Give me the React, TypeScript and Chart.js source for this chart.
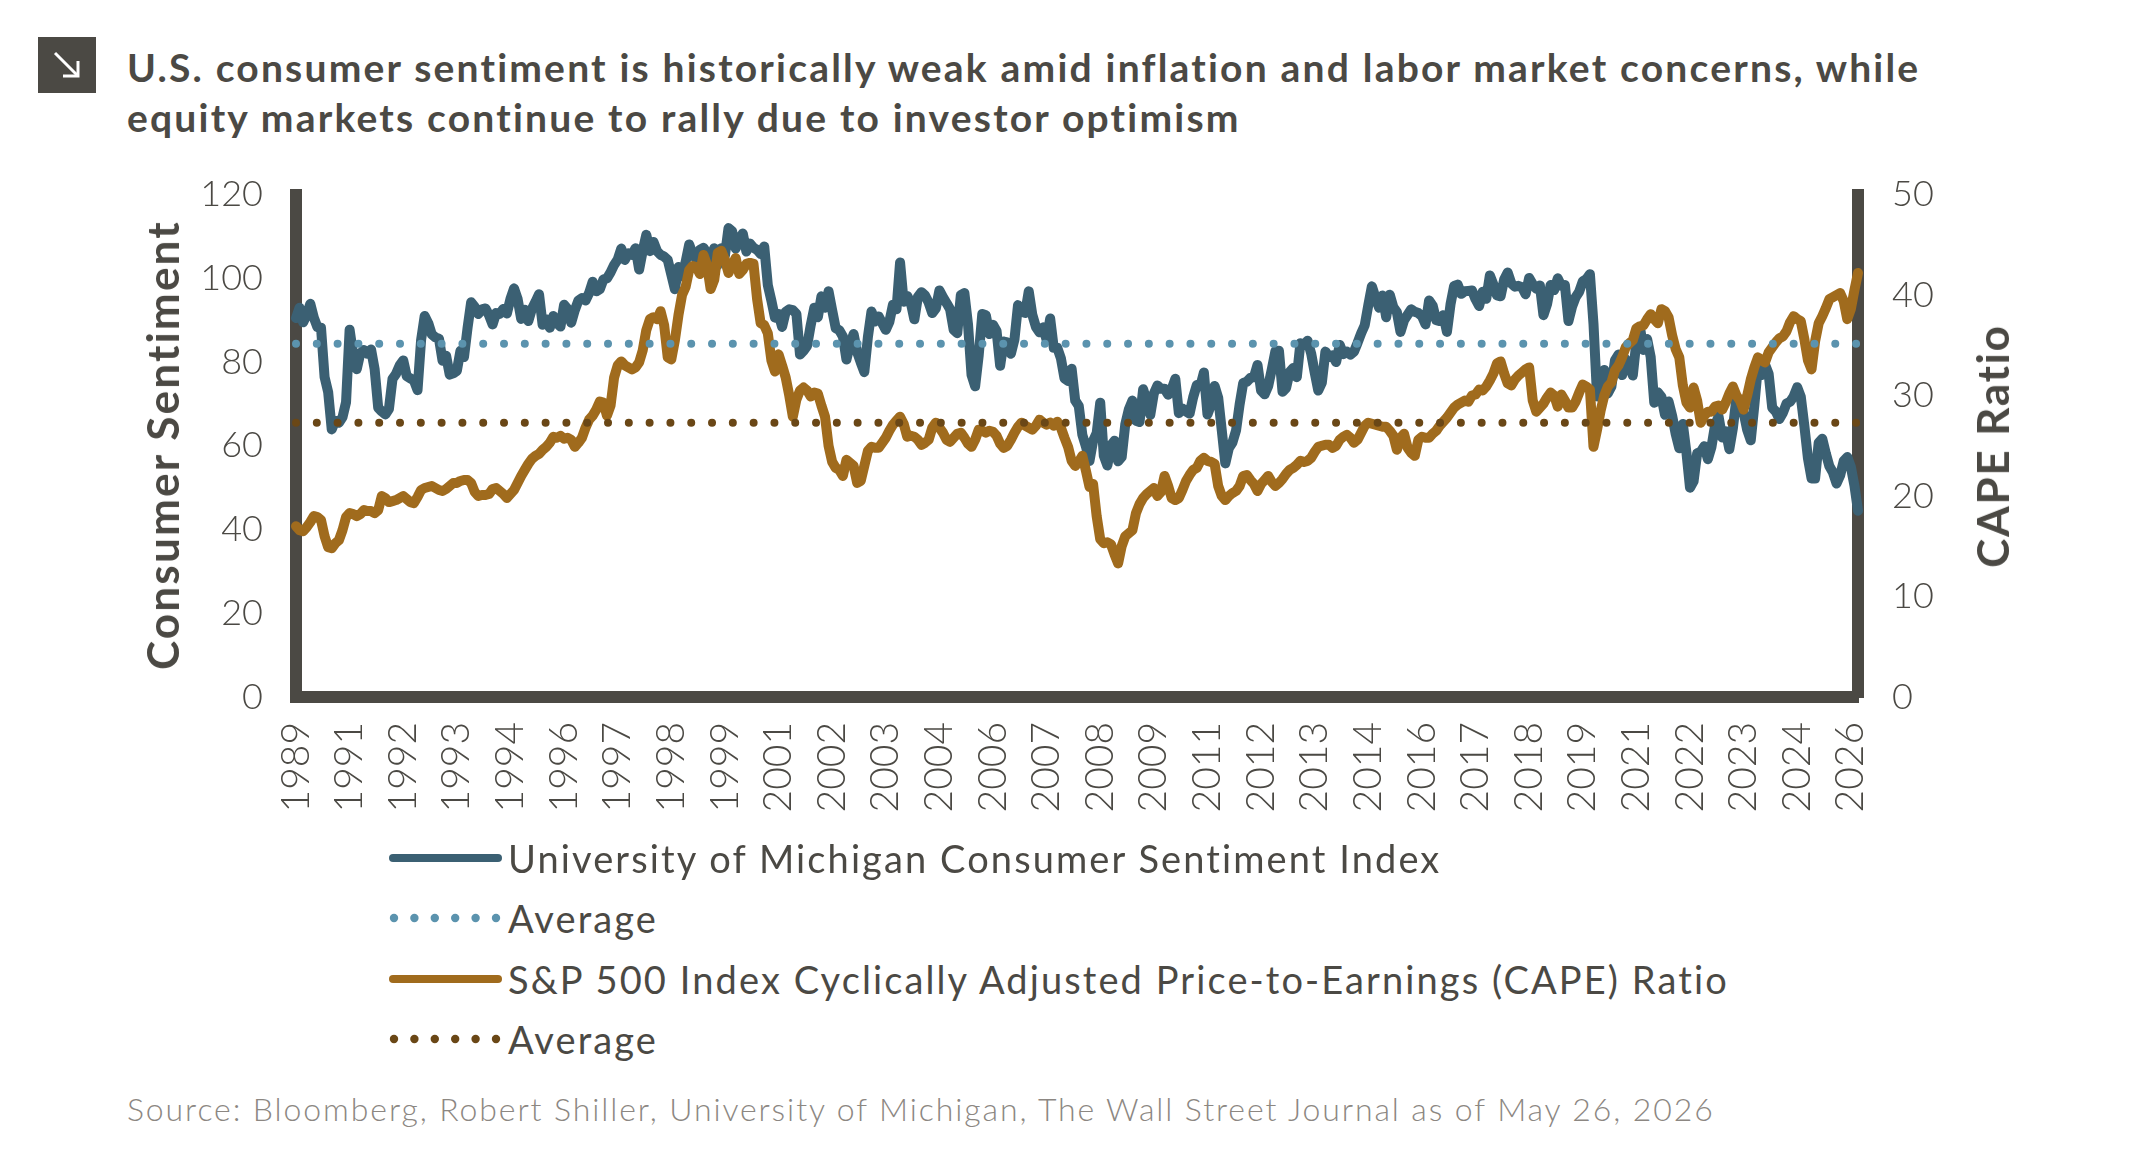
import React, { useEffect, useRef } from "react";
import { Chart, registerables } from "chart.js";

Chart.register(...registerables);

// Monthly series, December 1989 through May 2026
const START_YEAR = 1989;
const START_MONTH = 12;

const sentiment: number[] = [
  90.5,
  93.0, 89.5, 91.3, 93.9, 90.6, 88.3, 88.2, 76.4, 72.8, 63.9, 66.0, 65.5,
  66.8, 70.4, 87.7, 81.8, 78.3, 82.1, 82.9, 82.0, 83.0, 78.3, 69.1, 68.2,
  67.5, 68.8, 76.0, 77.2, 79.2, 80.4, 76.6, 76.1, 75.6, 73.3, 85.3, 91.0,
  89.3, 86.6, 85.9, 85.6, 80.3, 81.5, 77.0, 77.3, 77.9, 82.7, 81.2, 88.2,
  94.3, 93.2, 91.5, 92.6, 92.8, 91.2, 89.0, 91.7, 91.5, 92.7, 91.6, 95.1,
  97.6, 95.1, 90.3, 92.5, 89.8, 92.7, 94.4, 96.2, 88.9, 90.2, 88.2, 91.0,
  89.3, 88.5, 93.7, 92.7, 89.4, 92.4, 94.7, 95.3, 94.7, 96.5, 99.2, 96.9,
  97.4, 99.7, 100.0, 101.4, 103.2, 104.5, 107.1, 104.4, 106.0, 105.6, 107.2, 102.1,
  106.6, 110.4, 106.5, 108.7, 106.5, 105.6, 105.2, 104.4, 100.9, 97.4, 102.7, 100.5,
  103.9, 108.1, 105.7, 104.6, 106.8, 107.3, 106.0, 104.5, 107.2, 103.2, 107.2, 105.4,
  112.0, 111.3, 107.1, 109.2, 110.7, 106.4, 108.3, 107.3, 106.8, 105.8, 107.6, 98.4,
  94.7, 90.6, 91.5, 88.4, 92.0, 92.6, 92.4, 91.5, 81.8, 82.7, 83.9, 88.8,
  93.0, 90.7, 95.7, 93.0, 96.9, 92.4, 88.1, 87.6, 86.1, 80.6, 84.2, 86.7,
  82.4, 79.9, 77.6, 86.0, 92.1, 89.7, 90.9, 89.3, 87.7, 89.6, 93.7, 92.6,
  103.8, 94.4, 95.8, 94.2, 90.2, 95.6, 96.7, 95.9, 94.2, 91.7, 92.8, 97.1,
  95.5, 94.1, 92.6, 87.7, 86.9, 96.0, 96.5, 89.1, 76.9, 74.2, 81.6, 91.5,
  91.2, 86.7, 88.9, 87.4, 79.1, 84.9, 84.7, 82.0, 85.4, 93.6, 92.1, 91.7,
  96.9, 91.3, 88.4, 87.1, 88.3, 85.3, 90.4, 83.4, 83.4, 80.9, 76.1, 75.5,
  78.4, 70.8, 69.5, 62.6, 59.8, 56.4, 61.2, 63.0, 70.3, 57.6, 55.3, 60.1,
  61.2, 56.3, 57.3, 65.1, 68.7, 70.8, 66.0, 65.7, 73.5, 70.6, 67.4, 72.5,
  74.4, 73.6, 73.6, 72.2, 73.6, 76.0, 67.8, 68.9, 68.2, 67.7, 71.6, 74.5,
  74.2, 77.5, 67.5, 69.8, 74.3, 71.5, 63.7, 55.8, 59.5, 60.8, 63.7, 69.9,
  75.0, 75.3, 76.2, 76.4, 79.3, 73.2, 72.3, 74.3, 78.3, 82.6, 82.7, 72.9,
  73.8, 77.6, 78.6, 76.4, 84.5, 84.1, 85.1, 82.1, 77.5, 73.2, 75.1, 82.5,
  81.2, 81.6, 80.0, 84.1, 81.9, 82.5, 81.8, 82.5, 84.6, 86.9, 88.8, 93.6,
  98.1, 95.4, 93.0, 95.9, 90.7, 96.1, 93.1, 91.9, 87.2, 90.0, 91.3, 92.6,
  92.0, 91.7, 91.0, 89.0, 94.7, 93.5, 90.0, 89.8, 91.2, 87.2, 93.8, 98.2,
  98.5, 96.3, 96.9, 97.0, 97.1, 95.0, 93.4, 96.8, 95.1, 100.7, 98.5, 95.9,
  95.7, 99.7, 101.4, 98.8, 98.0, 98.2, 97.9, 96.2, 100.1, 98.6, 97.5, 98.3,
  91.2, 93.8, 98.4, 97.2, 100.0, 98.2, 98.4, 89.8, 93.2, 95.5, 96.8, 99.3,
  99.8, 101.0, 89.1, 71.8, 72.3, 78.1, 72.5, 74.1, 80.4, 81.8, 76.9, 80.7,
  79.0, 76.8, 84.9, 88.3, 82.9, 85.5, 81.2, 70.3, 72.8, 71.7, 67.4, 70.6,
  67.2, 62.8, 59.4, 65.2, 58.4, 50.0, 51.5, 58.2, 58.6, 59.9, 56.8, 59.7,
  64.9, 67.0, 62.0, 63.5, 59.2, 64.2, 71.5, 69.5, 67.9, 63.8, 61.3, 69.7,
  79.0, 76.9, 79.4, 77.2, 69.1, 68.2, 66.4, 67.9, 70.1, 70.5, 71.8, 74.0,
  71.7, 64.7, 57.0, 52.2, 52.2, 60.7, 61.7, 58.2, 55.1, 53.6, 51.0, 52.9,
  56.4, 57.3, 55.0, 50.5, 44.5,
];

const cape: number[] = [
  17.0,
  16.6, 16.5, 16.9, 17.4, 18.0, 17.9, 17.6, 16.0, 14.9, 14.8, 15.3, 15.6,
  16.6, 17.9, 18.3, 18.2, 18.0, 18.2, 18.6, 18.5, 18.5, 18.3, 18.6, 20.0,
  19.8, 19.4, 19.5, 19.6, 19.8, 20.0, 19.7, 19.4, 19.3, 19.9, 20.6, 20.8,
  20.9, 21.0, 20.8, 20.6, 20.5, 20.7, 21.0, 21.3, 21.3, 21.5, 21.6, 21.6,
  21.3, 20.4, 20.0, 20.1, 20.1, 20.2, 20.7, 20.8, 20.5, 20.2, 19.8, 20.2,
  20.6, 21.3, 22.0, 22.6, 23.2, 23.7, 24.0, 24.2, 24.6, 24.9, 25.3, 25.9,
  25.8, 26.0, 25.7, 25.8, 25.6, 24.9, 25.3, 25.8, 26.8, 27.6, 28.0, 28.6,
  29.4, 29.3, 28.0, 29.0, 31.8, 33.0, 33.4, 33.0, 32.8, 32.6, 32.8, 33.3,
  34.5, 36.5, 37.6, 37.8, 37.6, 38.4, 37.0, 33.8, 33.6, 35.5, 38.0, 40.0,
  40.8, 42.5, 42.9, 42.8, 42.1, 44.0, 43.0, 40.6, 41.5, 44.2, 44.4, 43.5,
  42.2, 43.0, 43.7, 42.1, 42.5, 43.1, 43.2, 43.1, 39.6, 37.2, 37.0, 36.2,
  33.5, 32.4, 34.1, 33.0, 31.8, 30.0, 27.9, 29.6, 30.5, 30.8, 30.5, 29.9,
  30.3, 30.2, 29.0, 27.9, 25.0, 23.4, 22.8, 22.6, 22.0, 23.6, 23.3, 23.0,
  21.3, 21.5, 23.0, 24.5, 24.9, 24.8, 24.8, 25.3, 25.8, 26.5, 27.1, 27.5,
  27.9, 27.2, 25.9, 26.0, 25.9, 25.6, 25.1, 25.3, 25.6, 26.8, 27.3, 26.8,
  26.3, 25.6, 25.4, 25.8, 26.2, 26.3, 25.8, 25.2, 24.9, 25.6, 26.6, 26.5,
  26.3, 26.5, 26.4, 26.0, 25.2, 24.8, 25.0, 25.6, 26.3, 26.9, 27.3, 27.0,
  26.8, 26.6, 27.0, 27.6, 27.3, 27.1, 27.3, 27.0, 27.4, 26.8, 25.8, 24.9,
  23.5, 23.0, 23.4, 24.0, 22.5, 20.9, 21.2, 18.0, 15.7, 15.3, 15.4, 15.2,
  14.2, 13.3, 15.0, 16.0, 16.3, 16.6, 18.3, 19.2, 19.8, 20.2, 20.5, 20.8,
  20.0, 20.4, 22.0, 21.0, 19.8, 19.6, 19.8, 20.6, 21.5, 22.1, 22.6, 22.8,
  23.5, 23.8, 23.5, 23.4, 23.2, 21.0, 20.0, 19.6, 20.0, 20.3, 20.5, 21.0,
  22.0, 22.1, 21.6, 21.2, 20.5, 21.2, 21.6, 22.0, 21.4, 21.0, 21.3, 21.7,
  22.2, 22.6, 22.8, 23.1, 23.5, 23.4, 23.5, 23.8, 24.4, 24.9, 25.0, 25.1,
  25.1, 24.8, 25.0, 25.6, 25.9, 26.1, 25.8, 25.3, 25.6, 26.3, 27.0, 27.3,
  27.2, 27.1, 27.0, 26.9, 26.9, 26.5, 26.0, 24.6, 25.8, 26.2, 24.8, 24.3,
  24.0, 25.6, 25.9, 25.8, 25.8, 26.2, 26.5, 27.0, 27.4, 27.8, 28.3, 28.8,
  29.1, 29.3, 29.5, 29.4, 30.0, 30.1, 30.6, 30.5, 30.9, 31.5, 32.2, 33.2,
  33.4, 32.2, 31.2, 31.0, 31.6, 32.0, 32.3, 32.6, 32.8, 29.5, 28.4, 28.8,
  29.2, 29.8, 30.3, 30.0, 28.9, 30.1, 29.5, 28.8, 28.8, 29.4, 30.3, 31.1,
  30.9, 30.6, 24.9, 26.6, 28.5, 30.0, 30.9, 31.3, 32.5, 33.0, 33.8, 34.8,
  35.2, 35.5, 36.7, 36.9, 37.0, 37.6, 38.1, 37.6, 37.2, 38.6, 38.4, 37.8,
  36.0, 34.6, 33.8, 31.0, 29.3, 28.8, 30.8, 29.5, 27.3, 28.0, 28.4, 28.4,
  28.9, 29.0, 28.6, 29.3, 30.2, 30.9, 30.0, 29.5, 28.6, 30.0, 31.6, 32.8,
  33.8, 33.5, 33.3, 34.3, 34.8, 35.3, 35.7, 35.9, 36.4, 37.3, 37.9, 37.6,
  37.4, 35.6, 33.5, 32.6, 35.4, 37.2, 37.9, 38.7, 39.6, 39.8, 40.0, 40.2,
  39.4, 37.6, 38.6, 40.5, 42.2,
];

const SENTIMENT_AVG = 84.4;
const CAPE_AVG = 27.3;
const LABEL_EVERY = 15;

const labels: string[] = sentiment.map((_, i) => {
  const m = START_MONTH - 1 + i;
  const y = START_YEAR + Math.floor(m / 12);
  return `${y}-${String((m % 12) + 1).padStart(2, "0")}`;
});

const TITLE_LINES = [
  "U.S. consumer sentiment is historically weak amid inflation and labor market concerns, while",
  "equity markets continue to rally due to investor optimism",
];
const LEGEND_ITEMS = [
  { text: "University of Michigan Consumer Sentiment Index", kind: "line", color: "#3b6073" },
  { text: "Average", kind: "dots", color: "#5b93ae" },
  { text: "S&P 500 Index Cyclically Adjusted Price-to-Earnings (CAPE) Ratio", kind: "line", color: "#a06b1d" },
  { text: "Average", kind: "dots", color: "#6a4716" },
];
const SOURCE = "Source: Bloomberg, Robert Shiller, University of Michigan, The Wall Street Journal as of May 26, 2026";

const DARK = "#4b4944";
const FONT = "Lato, 'Open Sans', sans-serif";

export default function App() {
  const ref = useRef<HTMLCanvasElement>(null);

  useEffect(() => {
    if (!ref.current) return;
    const tickFont = { family: FONT, size: 36, weight: 300 as any };
    const chart = new Chart(ref.current, {
      type: "line",
      data: {
        labels,
        datasets: [
          {
            label: "University of Michigan Consumer Sentiment Index",
            data: sentiment,
            yAxisID: "yL",
            borderColor: "#3b6073",
            borderWidth: 10,
            pointRadius: 0,
            borderJoinStyle: "round",
            borderCapStyle: "round",
            order: 3,
          },
          {
            label: "Average",
            data: labels.map(() => SENTIMENT_AVG),
            yAxisID: "yL",
            borderColor: "#5b93ae",
            borderWidth: 8,
            borderDash: [0.001, 20.8],
            borderCapStyle: "round",
            pointRadius: 0,
            order: 1,
          },
          {
            label: "S&P 500 Index Cyclically Adjusted Price-to-Earnings (CAPE) Ratio",
            data: cape,
            yAxisID: "yR",
            borderColor: "#a06b1d",
            borderWidth: 10,
            pointRadius: 0,
            borderJoinStyle: "round",
            borderCapStyle: "round",
            order: 2,
          },
          {
            label: "Average ",
            data: labels.map(() => CAPE_AVG),
            yAxisID: "yR",
            borderColor: "#6a4716",
            borderWidth: 8,
            borderDash: [0.001, 20.8],
            borderCapStyle: "round",
            pointRadius: 0,
            order: 0,
          },
        ],
      },
      options: {
        animation: false,
        responsive: false,
        devicePixelRatio: 1,
        layout: { padding: { top: 0, left: 0, right: 0, bottom: 0 } },
        plugins: { legend: { display: false }, tooltip: { enabled: false } },
        scales: {
          x: {
            type: "category",
            offset: false,
            grid: { display: false, drawTicks: false },
            border: { display: true, color: DARK, width: 12 },
            ticks: {
              autoSkip: false,
              minRotation: 90,
              maxRotation: 90,
              padding: 25,
              color: DARK,
              font: { family: FONT, size: 39, weight: 300 as any },
              callback: (_v: any, i: number) => (i % LABEL_EVERY === 0 ? labels[i].slice(0, 4) : ""),
            },
            afterFit: (s: any) => {
              s.height = 153;
            },
          },
          yL: {
            type: "linear",
            position: "left",
            min: 0,
            max: 120,
            grid: { display: false, drawTicks: false },
            border: { display: true, color: DARK, width: 12 },
            ticks: { stepSize: 20, padding: 33, color: DARK, font: tickFont },
            afterFit: (s: any) => {
              s.width = 296;
            },
          },
          yR: {
            type: "linear",
            position: "right",
            min: 0,
            max: 50,
            grid: { display: false, drawTicks: false },
            border: { display: true, color: DARK, width: 12 },
            ticks: { stepSize: 10, padding: 34, color: DARK, font: tickFont },
            afterFit: (s: any) => {
              s.width = 278;
            },
          },
        },
      },
    });
    return () => chart.destroy();
  }, []);

  return (
    <div
      style={{
        position: "absolute",
        left: 0,
        top: 0,
        width: 2136,
        height: 1155,
        overflow: "hidden",
        background: "#ffffff",
        fontFamily: FONT,
      }}
    >
      {/* icon */}
      <div
        style={{
          position: "absolute",
          left: 38,
          top: 37,
          width: 58,
          height: 56,
          background: DARK,
        }}
      >
        <svg width="58" height="56" viewBox="0 0 58 56">
          <line x1="17" y1="16" x2="39" y2="38" stroke="#ffffff" strokeWidth="3" />
          <polyline points="40,24 40,39 25,39" fill="none" stroke="#ffffff" strokeWidth="3" />
        </svg>
      </div>
      {/* title */}
      <div
        style={{
          position: "absolute",
          left: 127,
          top: 42,
          fontSize: 39,
          fontWeight: 700,
          letterSpacing: "2.2px",
          lineHeight: "50px",
          color: DARK,
          whiteSpace: "nowrap",
        }}
      >
        {TITLE_LINES.map((t, i) => (
          <div key={i}>{t}</div>
        ))}
      </div>
      <canvas
        ref={ref}
        width={2136}
        height={711}
        style={{ position: "absolute", left: 0, top: 139, width: 2136, height: 711 }}
      />
      {/* axis titles */}
      <div
        style={{
          position: "absolute",
          left: 162,
          top: 445,
          transform: "translate(-50%, -50%) rotate(-90deg)",
          fontSize: 44,
          fontWeight: 700,
          letterSpacing: "2.2px",
          color: DARK,
          whiteSpace: "nowrap",
        }}
      >
        Consumer Sentiment
      </div>
      <div
        style={{
          position: "absolute",
          left: 1992,
          top: 446,
          transform: "translate(-50%, -50%) rotate(-90deg)",
          fontSize: 44,
          fontWeight: 700,
          letterSpacing: "1.8px",
          color: DARK,
          whiteSpace: "nowrap",
        }}
      >
        CAPE Ratio
      </div>
      {/* legend */}
      {LEGEND_ITEMS.map((it, i) => (
        <div
          key={i}
          style={{
            position: "absolute",
            left: 388,
            top: 858 + i * 60.3 - 25,
            height: 50,
            display: "flex",
            alignItems: "center",
            whiteSpace: "nowrap",
          }}
        >
          <svg width="118" height="50" viewBox="0 0 118 50" style={{ flex: "none" }}>
            {it.kind === "line" ? (
              <line x1="5" y1="25" x2="110" y2="25" stroke={it.color} strokeWidth="8" strokeLinecap="round" />
            ) : (
              [0, 1, 2, 3, 4, 5].map((k) => (
                <circle key={k} cx={6 + k * 20.4} cy={25} r={4.2} fill={it.color} />
              ))
            )}
          </svg>
          <span style={{ fontSize: 38, letterSpacing: "2.1px", color: DARK, marginLeft: 2 }}>{it.text}</span>
        </div>
      ))}
      {/* source */}
      <div
        style={{
          position: "absolute",
          left: 127,
          top: 1090,
          fontSize: 32,
          lineHeight: "38px",
          fontWeight: 300,
          letterSpacing: "1.9px",
          color: "#8c8782",
          whiteSpace: "nowrap",
        }}
      >
        {SOURCE}
      </div>
    </div>
  );
}
